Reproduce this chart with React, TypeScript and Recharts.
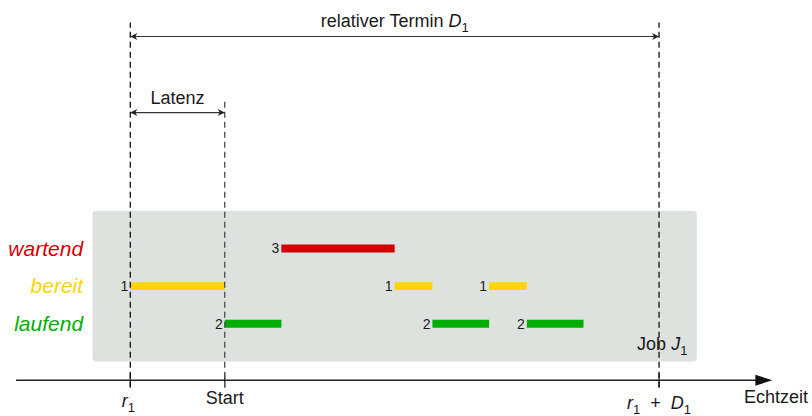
import {
  ComposedChart,
  XAxis,
  YAxis,
  ReferenceArea,
  ReferenceLine,
  ReferenceDot,
  Rectangle,
} from "recharts";

// states of the job, top to bottom
const STATE_NAMES = ["wartend", "bereit", "laufend"];
const STATE_ROWS = [3, 2, 1];
const STATE_COLORS = ["#d40000", "#ffd500", "#00ad00"];

// job J1 timeline (time units)
const SEG_STATE = ["bereit", "laufend", "wartend", "bereit", "laufend", "bereit", "laufend"];
const SEG_FROM = [0, 5, 8, 14, 16, 19, 21];
const SEG_TO = [5, 8, 14, 16, 19, 21, 24];
const SEG_NUM = ["1", "2", "3", "1", "2", "1", "2"];

const RELEASE = 0;
const START = 5;
const DEADLINE = 28;
const JOB_SPAN = [-2, 30];

const FONT = "'Liberation Sans', Arial, Helvetica, sans-serif";

type Part = [string, "n" | "i" | "s"];

function renderParts(parts: Part[]) {
  let sub = false;
  return parts.map(([txt, kind], i) => {
    let dy = 0;
    if (kind === "s" && !sub) {
      dy = 5;
      sub = true;
    } else if (kind !== "s" && sub) {
      dy = -5;
      sub = false;
    }
    return (
      <tspan
        key={i}
        dy={dy}
        fontStyle={kind === "i" ? "italic" : undefined}
        fontSize={kind === "s" ? 13 : undefined}
      >
        {txt}
      </tspan>
    );
  });
}

function note(parts: Part[], anchor: "start" | "middle" | "end", opts: any = {}) {
  return (props: any) => {
    const vb = props.viewBox || {};
    const x = (vb.x ?? 0) + (vb.width ?? 0) / 2;
    const y = (vb.y ?? 0) + (vb.height ?? 0) / 2;
    return (
      <text
        x={x}
        y={y}
        textAnchor={anchor}
        fontFamily={FONT}
        fontSize={opts.fontSize ?? 18}
        fill={opts.fill ?? "#1a1a1a"}
        fontStyle={opts.italic ? "italic" : "normal"}
        xmlSpace="preserve"
      >
        {renderParts(parts)}
      </text>
    );
  };
}

function dimArrow(parts: Part[], lift: number) {
  return (p: any) => {
    const { x1, y1, x2, y2 } = p;
    const head = (tx: number, dir: number) =>
      `M${tx},${y1} L${tx - dir * 7},${y1 - 3.5} L${tx - dir * 5},${y1} L${tx - dir * 7},${y1 + 3.5} Z`;
    return (
      <g>
        <line x1={x1} y1={y1} x2={x2} y2={y2} stroke="#333" strokeWidth={1.2} />
        <path d={head(x1, -1)} fill="#222" />
        <path d={head(x2, 1)} fill="#222" />
        <text
          x={(x1 + x2) / 2}
          y={y1 - lift}
          textAnchor="middle"
          fontFamily={FONT}
          fontSize={18}
          fill="#1a1a1a"
        >
          {renderParts(parts)}
        </text>
      </g>
    );
  };
}

function timeAxis(p: any) {
  const { x1, y1, x2 } = p;
  return (
    <g>
      <line x1={x1} y1={y1} x2={x2 - 16} y2={y1} stroke="#222" strokeWidth={1.5} />
      <path d={`M${x2 - 17},${y1 - 5.5} L${x2},${y1} L${x2 - 17},${y1 + 5.5} Z`} fill="#111" />
    </g>
  );
}

export default function App() {
  return (
    <div style={{ position: "absolute", left: 0, top: 0, width: 812, height: 416, background: "#fff" }}>
      <ComposedChart width={812} height={416} data={[]} margin={{ top: 0, right: 0, bottom: 0, left: 0 }}>
        <XAxis type="number" dataKey="t" domain={[-6.9, 36.1]} hide allowDataOverflow />
        <YAxis type="number" domain={[-1.45, 9.6]} hide allowDataOverflow />

        <ReferenceArea
          x1={JOB_SPAN[0]}
          x2={JOB_SPAN[1]}
          y1={0}
          y2={4}
          fill="#dde2de"
          fillOpacity={1}
          stroke="none"
          shape={(p: any) => <Rectangle {...p} radius={4} />}
        />

        {SEG_STATE.map((s, i) => {
          const k = STATE_NAMES.indexOf(s);
          return (
            <ReferenceArea
              key={`seg-${i}`}
              x1={SEG_FROM[i]}
              x2={SEG_TO[i]}
              y1={STATE_ROWS[k] - 0.105}
              y2={STATE_ROWS[k] + 0.105}
              fill={STATE_COLORS[k]}
              fillOpacity={1}
              stroke="none"
              label={{
                value: SEG_NUM[i],
                position: "left",
                offset: 2,
                fontSize: 14,
                fill: "#1a1a1a",
                fontFamily: FONT,
              }}
            />
          );
        })}

        {[RELEASE, START, DEADLINE].map((t) => (
          <ReferenceLine
            key={`tick-${t}`}
            segment={[
              { x: t, y: -0.68 },
              { x: t, y: -0.32 },
            ]}
            stroke="#222"
            strokeWidth={1.3}
          />
        ))}

        <ReferenceLine
          segment={[
            { x: RELEASE, y: -0.7 },
            { x: RELEASE, y: 9.0 },
          ]}
          stroke="#111"
          strokeWidth={1.3}
          strokeDasharray="6 4"
        />
        <ReferenceLine
          segment={[
            { x: START, y: -0.7 },
            { x: START, y: 6.9 },
          ]}
          stroke="#555"
          strokeWidth={1.4}
          strokeDasharray="6 4"
        />
        <ReferenceLine
          segment={[
            { x: DEADLINE, y: -0.7 },
            { x: DEADLINE, y: 9.0 },
          ]}
          stroke="#111"
          strokeWidth={1.3}
          strokeDasharray="6 4"
        />

        <ReferenceLine
          segment={[
            { x: RELEASE, y: 8.63 },
            { x: DEADLINE, y: 8.63 },
          ]}
          shape={dimArrow([["relativer Termin ", "n"], ["D", "i"], ["1", "s"]], 9.7)}
        />
        <ReferenceLine
          segment={[
            { x: RELEASE, y: 6.61 },
            { x: START, y: 6.61 },
          ]}
          shape={dimArrow([["Latenz", "n"]], 8.4)}
        />

        <ReferenceLine
          segment={[
            { x: -6.05, y: -0.5 },
            { x: 34.0, y: -0.5 },
          ]}
          shape={timeAxis}
        />

        {STATE_NAMES.map((s, k) => (
          <ReferenceDot
            key={`row-${s}`}
            x={-2.5}
            y={STATE_ROWS[k] - 0.19}
            r={0}
            fill="none"
            stroke="none"
            label={{ content: note([[s, "n"]], "end", { fontSize: 21, fill: STATE_COLORS[k], italic: true }) }}
          />
        ))}

        <ReferenceDot
          x={29.5}
          y={0.3}
          r={0}
          fill="none"
          stroke="none"
          label={{ content: note([["Job ", "n"], ["J", "i"], ["1", "s"]], "end") }}
        />
        <ReferenceDot
          x={RELEASE - 0.1}
          y={-1.22}
          r={0}
          fill="none"
          stroke="none"
          label={{ content: note([["r", "i"], ["1", "s"]], "middle") }}
        />
        <ReferenceDot
          x={START}
          y={-1.13}
          r={0}
          fill="none"
          stroke="none"
          label={{ content: note([["Start", "n"]], "middle") }}
        />
        <ReferenceDot
          x={DEADLINE}
          y={-1.26}
          r={0}
          fill="none"
          stroke="none"
          label={{ content: note([["r", "i"], ["1", "s"], ["  +  ", "n"], ["D", "i"], ["1", "s"]], "middle") }}
        />
        <ReferenceDot
          x={34.2}
          y={-1.1}
          r={0}
          fill="none"
          stroke="none"
          label={{ content: note([["Echtzeit", "n"]], "middle") }}
        />
      </ComposedChart>
    </div>
  );
}
